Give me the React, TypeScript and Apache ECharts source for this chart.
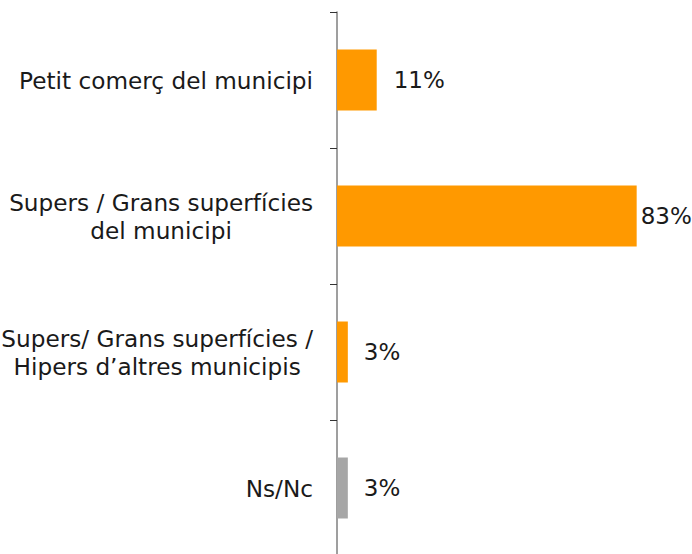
import React, { useEffect, useRef } from "react";
import * as echarts from "echarts";

const categories = [
  "Petit comerç del municipi",
  "Supers / Grans superfícies\ndel municipi",
  "Supers/ Grans superfícies /\nHipers d’altres municipis",
  "Ns/Nc",
];
const values = [11, 83, 3, 3];
const barColors = ["#FF9900", "#FF9900", "#FF9900", "#A6A6A6"];
const labelDistances = [17, 4, 16, 16];

const FONT = "'Century Gothic', 'URW Gothic', 'DejaVu Sans', sans-serif";

export default function App() {
  const ref = useRef<HTMLDivElement>(null);
  useEffect(() => {
    if (!ref.current) return;
    const chart = echarts.init(ref.current, undefined, { renderer: "svg" });
    chart.setOption({
      animation: false,
      backgroundColor: "#ffffff",
      grid: {
        left: 337,
        top: 12,
        bottom: -2,
        right: 12,
        containLabel: false,
        outerBoundsMode: "none",
      },
      xAxis: {
        type: "value",
        min: 0,
        max: 95,
        show: false,
      },
      yAxis: {
        type: "category",
        inverse: true,
        data: categories,
        axisLine: { show: true, lineStyle: { color: "#7F7F7F", width: 1.5 } },
        axisTick: { show: true, length: 7, lineStyle: { color: "#333333", width: 1 } },
        axisLabel: {
          margin: 24,
          align: "right",
          formatter: (v: string) =>
            v
              .split("\n")
              .map((l) => "{c|" + l + "}")
              .join("\n"),
          rich: {
            c: {
              align: "center",
              fontFamily: FONT,
              fontSize: 23.2,
              lineHeight: 28,
              color: "#1A1A1A",
            },
          },
        },
        splitLine: { show: false },
      },
      series: [
        {
          type: "bar",
          barWidth: 61,
          data: values.map((v, i) => ({
            value: v,
            itemStyle: { color: barColors[i] },
            label: { distance: labelDistances[i] },
          })),
          label: {
            show: true,
            position: "right",
            formatter: "{c}%",
            fontFamily: FONT,
            fontSize: 23,
            color: "#1A1A1A",
          },
        },
      ],
    });
    return () => chart.dispose();
  }, []);
  return (
    <div
      ref={ref}
      style={{ position: "absolute", left: 0, top: 0, width: 692, height: 554 }}
    />
  );
}
